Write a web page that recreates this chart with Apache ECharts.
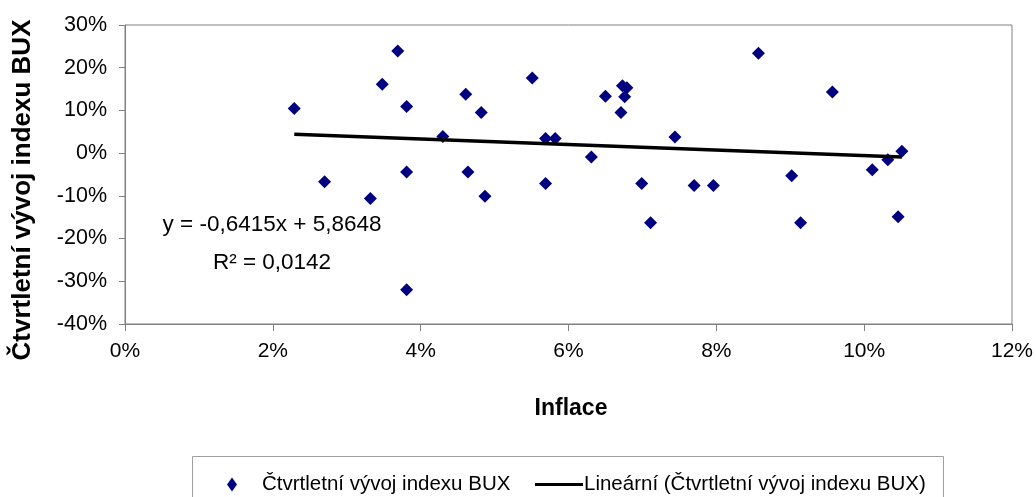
<!DOCTYPE html>
<html>
<head>
<meta charset="utf-8">
<script src="https://cdn.jsdelivr.net/npm/echarts@6/dist/echarts.min.js"></script>
<style>
html,body{margin:0;padding:0;background:#fff;}
#chart{width:1036px;height:497px;}
</style>
</head>
<body>
<div id="chart"></div>
<script>
// Inflation (%), x values
var inflation = [2.29, 2.70, 3.32, 3.48, 3.69, 3.81, 3.81, 3.81, 4.30, 4.61, 4.64, 4.82, 4.87, 5.51, 5.69, 5.82, 5.69, 6.31, 6.50, 6.71, 6.73, 6.79, 6.76, 6.99, 7.11, 7.44, 7.70, 7.96, 8.57, 9.02, 9.14, 9.57, 10.11, 10.32, 10.46, 10.51];
// Quarterly BUX change (%), y values
var bux = [10.45, -6.7, -10.6, 16.1, 23.9, 10.9, -4.4, -32.0, 3.9, 13.8, -4.4, 9.5, -10.1, 17.6, 3.4, 3.4, -7.1, -0.9, 13.3, 9.5, 15.8, 15.3, 13.2, -7.1, -16.3, 3.8, -7.6, -7.6, 23.4, -5.3, -16.3, 14.3, -3.9, -1.55, -14.9, 0.47];
// Trend line coefficients (as shown in chart)
var trendSlope = [-0.6415];
var trendIntercept = [5.8648];
var rSquared = [0.0142];

var seriesName = 'Čtvrtletní vývoj indexu BUX';
var trendName = 'Lineární (Čtvrtletní vývoj indexu BUX)';
var xTitle = 'Inflace';
var yTitle = 'Čtvrtletní vývoj indexu BUX';

var FONT = '"Liberation Sans", Arial, sans-serif';

var points = inflation.map(function (x, i) { return [x, bux[i]]; });
var xMin = Math.min.apply(null, inflation);
var xMax = Math.max.apply(null, inflation);
var trendPts = [xMin, xMax].map(function (x) { return [x, trendSlope[0] * x + trendIntercept[0]]; });

function cz(v) { return String(v).replace('.', ','); }
var eqText = 'y = ' + cz(trendSlope[0]) + 'x + ' + cz(trendIntercept[0]);
var r2Text = 'R² = ' + cz(rSquared[0].toFixed(4));

var chart = echarts.init(document.getElementById('chart'));
chart.setOption({
  animation: false,
  backgroundColor: '#fff',
  grid: {
    left: 125, top: 25, right: 24, bottom: 173,
    show: true, borderColor: '#808080', borderWidth: 1, backgroundColor: 'transparent'
  },
  xAxis: {
    type: 'value', min: 0, max: 12, interval: 2,
    axisLine: { show: true, onZero: false, lineStyle: { color: '#808080', width: 1 } },
    axisTick: { show: true, inside: false, length: 7, lineStyle: { color: '#808080' } },
    splitLine: { show: false },
    axisLabel: { formatter: '{value}%', color: '#000', fontFamily: FONT, fontSize: 21, margin: 17 }
  },
  yAxis: {
    type: 'value', min: -40, max: 30, interval: 10,
    axisLine: { show: true, onZero: false, lineStyle: { color: '#808080', width: 1 } },
    axisTick: { show: true, inside: false, length: 6, lineStyle: { color: '#808080' } },
    splitLine: { show: false },
    axisLabel: { formatter: '{value}%', color: '#000', fontFamily: FONT, fontSize: 21.5, margin: 18 }
  },
  legend: [
    {
      left: 227, top: 474, padding: 0,
      itemWidth: 10, itemHeight: 14,
      icon: 'diamond',
      itemStyle: { color: '#000080', opacity: 1 },
      textStyle: { fontFamily: FONT, fontSize: 20.5, color: '#000', padding: [0, 0, 0, 20] },
      data: [seriesName]
    },
    {
      left: 535, top: 474, padding: 0,
      itemWidth: 48, itemHeight: 3,
      icon: 'rect',
      itemStyle: { color: '#000' },
      textStyle: { fontFamily: FONT, fontSize: 20.5, color: '#000', padding: [0, 0, 0, -4] },
      data: [trendName]
    }
  ],
  series: [
    {
      name: seriesName, type: 'scatter', data: points,
      symbol: 'diamond', symbolSize: 13,
      itemStyle: { color: '#000080', opacity: 1 }, z: 3
    },
    {
      name: trendName, type: 'line', data: trendPts,
      symbol: 'none', lineStyle: { color: '#000', width: 3.5 },
      itemStyle: { color: '#000' }, z: 4
    }
  ],
  graphic: [
    {
      type: 'text', x: 23, y: 190, rotation: Math.PI / 2,
      style: { text: yTitle, fontFamily: FONT, fontSize: 26, fontWeight: 'bold', fill: '#000', align: 'center', verticalAlign: 'middle' }
    },
    {
      type: 'text', x: 571, y: 409,
      style: { text: xTitle, fontFamily: FONT, fontSize: 23, fontWeight: 'bold', fill: '#000', align: 'center', verticalAlign: 'middle' }
    },
    {
      type: 'text', x: 272, y: 225,
      style: { text: eqText, fontFamily: FONT, fontSize: 22.5, fill: '#000', align: 'center', verticalAlign: 'middle' }
    },
    {
      type: 'text', x: 272, y: 263,
      style: { text: r2Text, fontFamily: FONT, fontSize: 22.5, fill: '#000', align: 'center', verticalAlign: 'middle' }
    },
    {
      type: 'rect', shape: { x: 192.5, y: 456.5, width: 751, height: 60 },
      style: { fill: 'none', stroke: '#a0a0a0', lineWidth: 1 }, silent: true
    }
  ]
});
</script>
</body>
</html>
